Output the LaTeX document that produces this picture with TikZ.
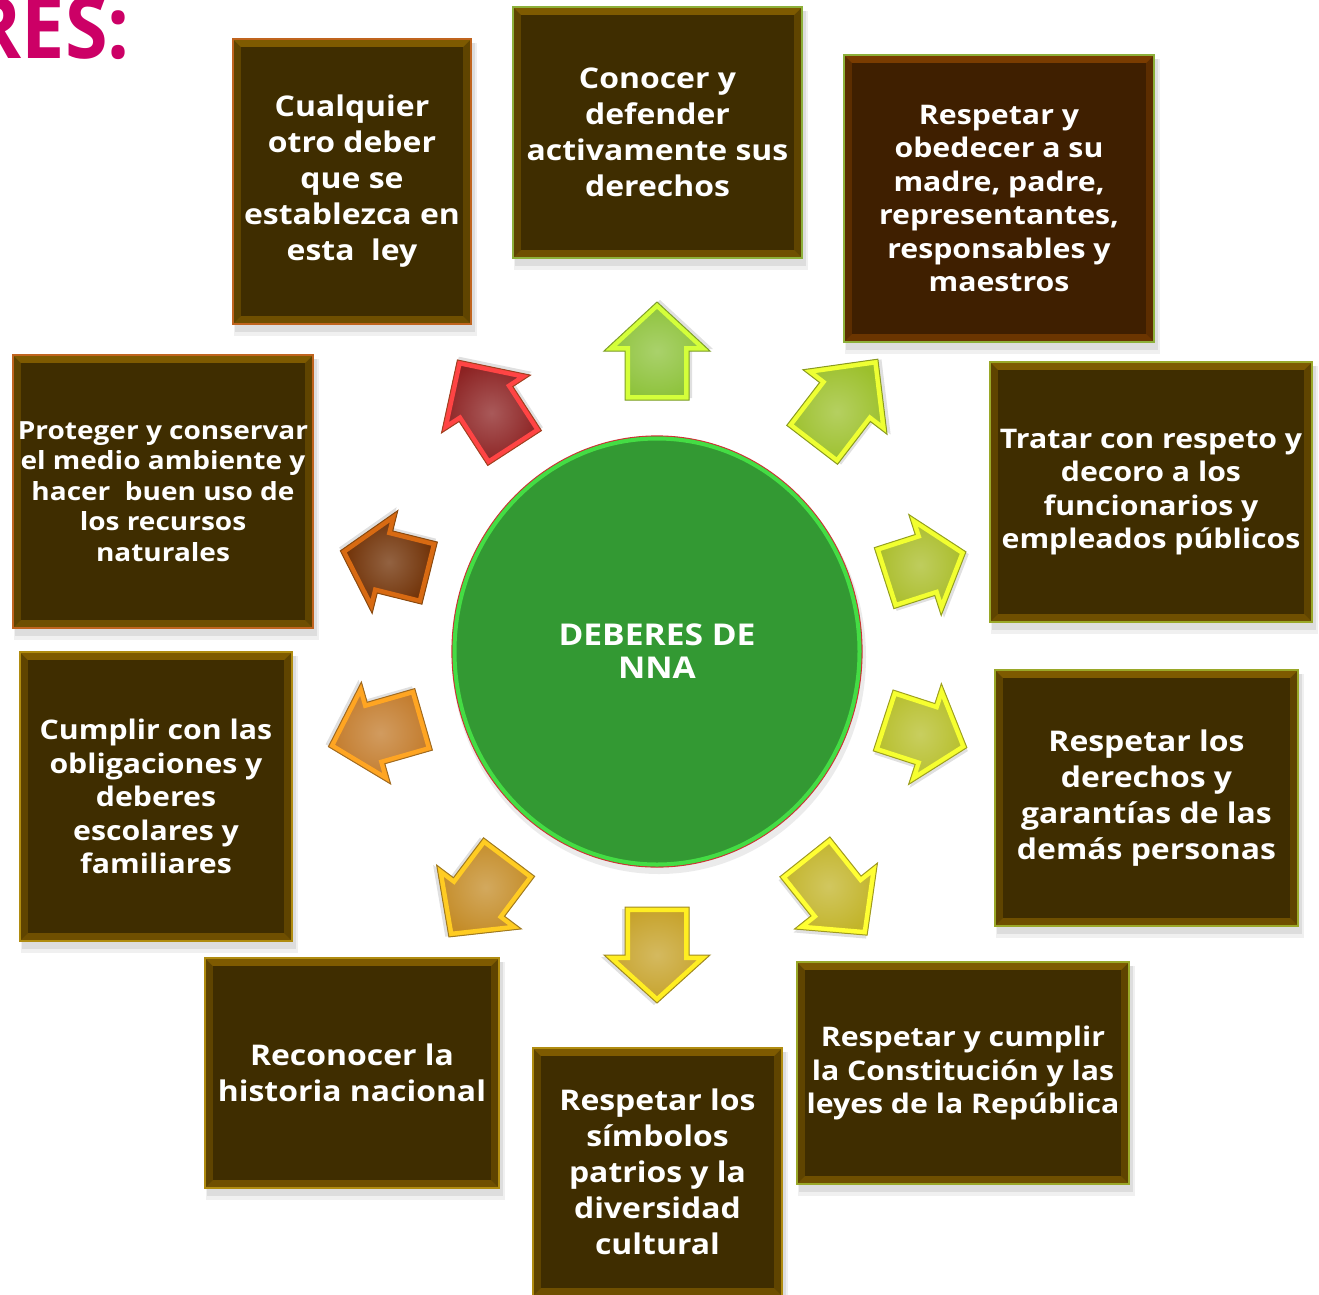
\documentclass[tikz,border=0pt]{standalone}
\usepackage{fontspec}
\setmainfont{Open Sans}[FakeStretch=1.12]
\newfontfamily\titlefont{Open Sans}[FakeStretch=0.9]
\usetikzlibrary{shapes.geometric}
\definecolor{brn-fill}{HTML}{3F2D00}
\definecolor{brn-bevel}{HTML}{7E5A00}
\definecolor{red-fill}{HTML}{3F1F00}
\definecolor{red-bevel}{HTML}{7A3C00}
\definecolor{olgreen}{HTML}{8DB03A}
\definecolor{olive}{HTML}{9AA828}
\definecolor{gold}{HTML}{B08C10}
\definecolor{orng}{HTML}{C0641E}
\definecolor{pinkt}{HTML}{CC0066}
\definecolor{circfill}{HTML}{339933}
\definecolor{circring}{HTML}{44DD44}
\definecolor{circedge}{HTML}{CC3333}
% arrows
\definecolor{fa}{HTML}{8DC23A}\definecolor{ba}{HTML}{D4FF3A}\definecolor{oa}{HTML}{7E9E2A}
\definecolor{fb}{HTML}{9CC02C}\definecolor{bb}{HTML}{EEFF33}\definecolor{ob}{HTML}{8A9A20}
\definecolor{fc}{HTML}{A9BC28}\definecolor{bc}{HTML}{F2FF30}\definecolor{oc}{HTML}{94A020}
\definecolor{fd}{HTML}{B6BE2A}\definecolor{bd}{HTML}{F6FF30}\definecolor{od}{HTML}{9EA020}
\definecolor{fe}{HTML}{C2B42A}\definecolor{be}{HTML}{FFFF33}\definecolor{oe}{HTML}{A09A20}
\definecolor{ff}{HTML}{C6A22A}\definecolor{bf}{HTML}{FFEE22}\definecolor{of}{HTML}{A08A20}
\definecolor{fg}{HTML}{C48C28}\definecolor{bg}{HTML}{FFCC22}\definecolor{og}{HTML}{A07A20}
\definecolor{fh}{HTML}{C27A2A}\definecolor{bh}{HTML}{FFA522}\definecolor{oh}{HTML}{A06A20}
\definecolor{fi}{HTML}{6E2E02}\definecolor{bi}{HTML}{D86A12}\definecolor{oi}{HTML}{8A4A10}
\definecolor{fj}{HTML}{8C2222}\definecolor{bj}{HTML}{FF4444}\definecolor{oj}{HTML}{A04020}

\tikzset{
  boxtext/.style={text=white, align=center, inner sep=0pt},
  bigtxt/.style={font=\bfseries\fontsize{28.5}{36}\selectfont},
  midtxt/.style={font=\bfseries\fontsize{27}{33.5}\selectfont},
  smalltxt/.style={font=\bfseries\fontsize{25}{30.5}\selectfont},
}

% #1 name, #2 x1, #3 y1, #4 x2, #5 y2, #6 scheme (brn/red), #7 outline, #8 text style, #9 text
\newcommand\deberbox[9]{%
  \fill[black,opacity=.06] (#2+1,#3+4) rectangle (#4+6,#5+12);
  \fill[black,opacity=.08] (#2+2,#3+4) rectangle (#4+4,#5+8);
  \fill[#6-bevel!75!black] (#2,#3) rectangle (#4,#5);
  \fill[#6-bevel] (#2,#3) -- (#4,#3) -- (#4-8,#3+8) -- (#2+8,#3+8) -- cycle;
  \fill[#6-bevel!88!black] (#2,#5) -- (#4,#5) -- (#4-8,#5-8) -- (#2+8,#5-8) -- cycle;
  \fill[#6-fill] (#2+8,#3+8) rectangle (#4-8,#5-8);
  \draw[#7, line width=1.3] (#2,#3) rectangle (#4,#5);
  \node[boxtext,#8] (#1) at ({(#2+#4)/2},{(#3+#5)/2}) {#9};
}

% #1 name, #2 cx, #3 cy, #4 angle, #5 length, #6 fill, #7 bevel, #8 outline
\newcommand\deberarrow[8]{%
  \begin{scope}[shift={(#2,#3)}, rotate=#4]
    \coordinate (#1) at (0,0);
    \def\arrpath{(#5/2,0) -- (0,53) -- (0,32) -- (-#5/2,32) -- (-#5/2,-32) -- (0,-32) -- (0,-53) -- cycle}
    \fill[black,opacity=.12,shift={(2,3)}] \arrpath;
    \shade[inner color=#6!75!white, outer color=#6] \arrpath;
    \begin{scope}
      \clip \arrpath;
      \draw[#7, line width=10, line join=miter] \arrpath;
    \end{scope}
    \draw[#8, line width=1, line join=miter] \arrpath;
  \end{scope}
}

\begin{document}
\begin{tikzpicture}[x=1pt,y=-1pt]
\useasboundingbox (0,0) rectangle (1319,1294);
\begin{scope}
\clip (0,0) rectangle (1319,1294);

% title fragment
\node[anchor=base east, inner sep=0pt, text=pinkt, font=\titlefont\bfseries\fontsize{86}{88}\selectfont] (title) at (130,58) {RES:};

% central circle
\fill[black,opacity=.08] (659,657) ellipse [x radius=207, y radius=217];
\node[ellipse, minimum width=410, minimum height=431, inner sep=0pt, fill=circfill, draw=circedge, line width=1.2] (center) at (657,651.5) {};
\draw[circring, line width=4] (657,651.5) ellipse [x radius=202.5, y radius=213];
\node[boxtext, font=\bfseries\fontsize{30}{33}\selectfont] (centertext) at (657,651.5) {DEBERES DE\\NNA};

% boxes
\deberbox{b1}{233}{39}{471}{324}{brn}{orng}{bigtxt}{Cualquier\\otro deber\\que se\\establezca en\\esta\ \ ley}
\deberbox{b2}{513}{7}{802}{258}{brn}{olgreen}{bigtxt}{Conocer y\\defender\\activamente sus\\derechos}
\deberbox{b3}{844}{55}{1154}{342}{red}{olgreen}{midtxt}{Respetar y\\obedecer a su\\madre, padre,\\representantes,\\responsables y\\maestros}
\deberbox{b4}{990}{362}{1312}{622}{brn}{olive}{midtxt}{Tratar con respeto y\\decoro a los\\funcionarios y\\empleados públicos}
\deberbox{b5}{995}{670}{1298}{926}{brn}{olive}{bigtxt}{Respetar los\\derechos y\\garantías de las\\demás personas}
\deberbox{b6}{797}{962}{1129}{1184}{brn}{olive}{midtxt}{Respetar y cumplir\\la Constitución y las\\leyes de la República}
\deberbox{b7}{533}{1048}{782}{1296}{brn}{gold}{bigtxt}{Respetar los\\símbolos\\patrios y la\\diversidad\\cultural}
\deberbox{b8}{205}{958}{499}{1188}{brn}{gold}{bigtxt}{Reconocer la\\historia nacional}
\deberbox{b9}{20}{652}{292}{941}{brn}{gold}{midtxt}{Cumplir con las\\obligaciones y\\deberes\\escolares y\\familiares}
\deberbox{b10}{13}{355}{313}{628}{brn}{orng}{smalltxt}{Proteger y conservar\\el medio ambiente y\\hacer\ \ buen uso de\\los recursos\\naturales}

% arrows
\deberarrow{a1}{657}{351}{90}{98}{fa}{ba}{oa}
\deberarrow{a2}{845}{402}{52.5}{108}{fb}{bb}{ob}
\deberarrow{a3}{925}{565}{17.8}{86}{fc}{bc}{oc}
\deberarrow{a4}{925}{734}{-18}{88}{fd}{bd}{od}
\deberarrow{a5}{836}{896}{-51.5}{100}{fe}{be}{oe}
\deberarrow{a6}{657}{955}{-90}{96}{ff}{bf}{of}
\deberarrow{a7}{479}{897}{-127}{100}{fg}{bg}{og}
\deberarrow{a8}{376}{733}{196}{99}{fh}{bh}{oh}
\deberarrow{a9}{385}{562}{166}{92}{fi}{bi}{oi}
\deberarrow{a10}{486}{404}{123}{105}{fj}{bj}{oj}
\end{scope}
\end{tikzpicture}
\end{document}
